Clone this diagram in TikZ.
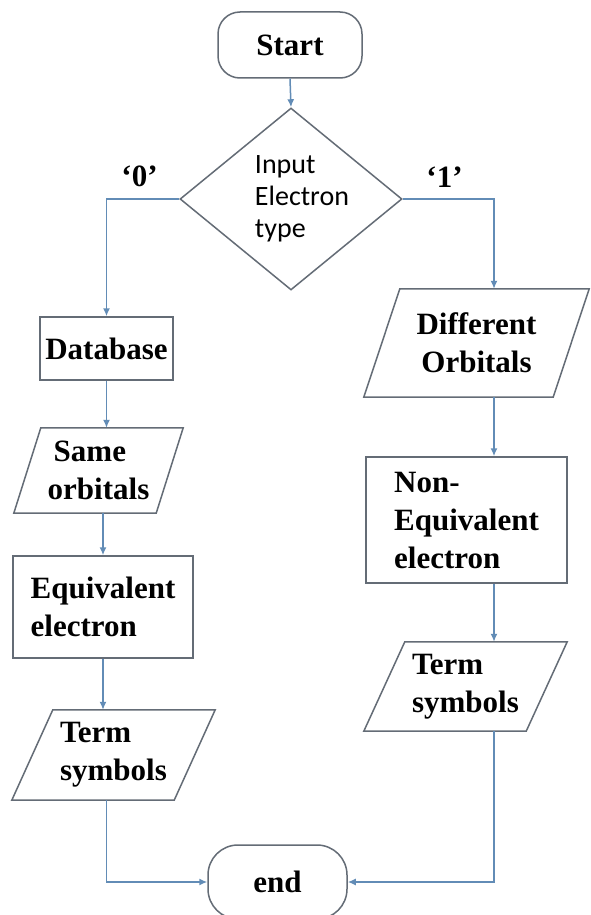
\documentclass[tikz,border=0pt]{standalone}
\usepackage{fontspec}
\setmainfont{Liberation Serif}
\newfontfamily\calfont{Carlito}
\usetikzlibrary{shapes.geometric,arrows.meta}
\definecolor{bord}{RGB}{100,108,118}
\definecolor{conn}{RGB}{98,140,182}
\begin{document}
\begin{tikzpicture}[x=1pt,y=-1pt,
  every node/.style={font=\fontsize{31}{38}\selectfont\bfseries},
  box/.style={draw=bord,line width=1.5pt,rectangle,inner sep=0pt},
  capsule/.style={draw=bord,line width=1.5pt,rectangle,rounded corners=#1,inner sep=0pt},
  paranode/.style={rectangle,inner sep=0pt},
  pline/.style={draw=bord,line width=1.5pt,line join=miter},
  arr/.style={draw=conn,line width=1.5pt,-{Latex[length=8pt,width=7pt]}},
  plainline/.style={draw=conn,line width=1.5pt}
]
\useasboundingbox[fill=white] (0,0) rectangle (590,915);

% terminals
\node[capsule=22pt,minimum width=144pt,minimum height=66pt] (start) at (290,45) {Start};
\node[capsule=30pt,minimum width=139pt,minimum height=74pt] (end) at (277.5,882) {end};

% decision
\node[draw=bord,line width=1.5pt,diamond,inner sep=0pt,shape aspect=1.22,
      minimum width=222pt,minimum height=182pt,
      font=\calfont\fontsize{28}{32}\selectfont] (dec) at (291,199)
      {\makebox[0pt]{\hspace{22pt}\begin{tabular}{@{}l@{}}Input\\Electron\\type\end{tabular}}};
\node (l0) at (139.5,176) {‘0’};
\node (l1) at (444.5,177) {‘1’};

% left column
\node[box,minimum width=133pt,minimum height=63pt] (db) at (106.5,348.5) {Database};
\node[paranode,minimum width=142pt,minimum height=85pt,align=left] (same) at (98.5,470.5) {\hspace*{6pt}Same\\orbitals};
\draw[pline] ([xshift=13.5pt]same.north west) -- ([xshift=13.5pt]same.north east)
  -- ([xshift=-13.5pt]same.south east) -- ([xshift=-13.5pt]same.south west) -- cycle;
\node[box,minimum width=180pt,minimum height=102pt,align=left] (eq) at (103,607) {Equivalent\\electron};
\node[paranode,minimum width=162pt,minimum height=90pt,align=left] (termL) at (113.5,755) {Term\\symbols};
\draw[pline] ([xshift=20.5pt]termL.north west) -- ([xshift=20.5pt]termL.north east)
  -- ([xshift=-20.5pt]termL.south east) -- ([xshift=-20.5pt]termL.south west) -- cycle;

% right column
\node[paranode,minimum width=189pt,minimum height=108pt,align=center] (diff) at (476.5,343) {Different\\Orbitals};
\draw[pline] ([xshift=18pt]diff.north west) -- ([xshift=18pt]diff.north east)
  -- ([xshift=-18pt]diff.south east) -- ([xshift=-18pt]diff.south west) -- cycle;
\node[box,minimum width=201pt,minimum height=126pt,align=left] (neq) at (466.5,520) {Non-\\Equivalent\\electron};
\node[paranode,minimum width=162pt,minimum height=89pt,align=left] (termR) at (465.5,686.5) {Term\\symbols};
\draw[pline] ([xshift=20.5pt]termR.north west) -- ([xshift=20.5pt]termR.north east)
  -- ([xshift=-20.5pt]termR.south east) -- ([xshift=-20.5pt]termR.south west) -- cycle;

\coordinate (rc) at (494,199);

% connectors
\draw[arr] (start.south) -- (dec.north);
\draw[arr] (dec.west) -| (db.north);
\draw[arr] (db.south) -- (db.south |- same.north);
\draw[arr] (same.south -| eq.north) -- (eq.north);
\draw[arr] (eq.south) -- (eq.south |- termL.north);
\draw[arr] (termL.south -| db.south) |- (end.west);

\draw[arr] (dec.east) -| (rc |- diff.north);
\draw[arr] (rc |- diff.south) -- (rc |- neq.north);
\draw[arr] (rc |- neq.south) -- (rc |- termR.north);
\draw[arr] (rc |- termR.south) |- (end.east);
\end{tikzpicture}
\end{document}
